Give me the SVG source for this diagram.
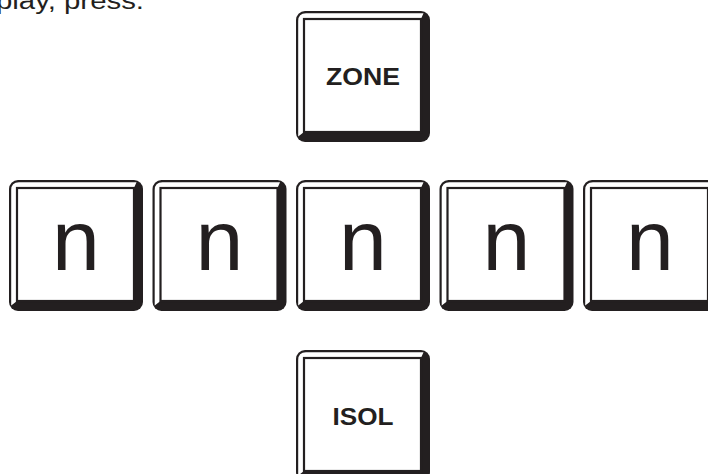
<svg xmlns="http://www.w3.org/2000/svg" xmlns:xlink="http://www.w3.org/1999/xlink" width="708" height="474" viewBox="0 0 708 474">
  <style>
    .label { font-family: "Liberation Sans", Arial, sans-serif; fill: #231f20; text-anchor: middle; }
    .word { font-size: 23px; font-weight: bold; }
    .digit { font-size: 86px; }
    .intro { font-family: "Liberation Sans", Arial, sans-serif; font-size: 23px; fill: #231f20; }
  </style>
  <defs>
    <g id="key">
      <rect x="0" y="0" width="134" height="131" rx="9" ry="9" fill="#231f20"/>
      <path d="M2.2,10 Q2.2,2.2 10,2.2 L127.5,2.2 L125,8 L125,121 L8,121 L2.2,125.5 Z" fill="#ffffff"/>
      <rect x="8" y="8" width="117" height="113" fill="#ffffff" stroke="#231f20" stroke-width="2.2"/>
    </g>
  </defs>
  <rect x="0" y="0" width="708" height="474" fill="#ffffff"/>
  <text class="intro" x="-4" y="8.5" textLength="148" lengthAdjust="spacingAndGlyphs">play, press:</text>
  <g id="connectors"/>
  <g id="key-zone" transform="translate(296,11)">
    <use href="#key" xlink:href="#key"/>
    <text class="label word" x="67" y="74" textLength="74" lengthAdjust="spacingAndGlyphs">ZONE</text>
  </g>
  <g id="key-n1" transform="translate(9,180)">
    <use href="#key" xlink:href="#key"/>
    <text class="label digit" x="67" y="90">n</text>
  </g>
  <g id="key-n2" transform="translate(152.5,180)">
    <use href="#key" xlink:href="#key"/>
    <text class="label digit" x="67" y="90">n</text>
  </g>
  <g id="key-n3" transform="translate(296,180)">
    <use href="#key" xlink:href="#key"/>
    <text class="label digit" x="67" y="90">n</text>
  </g>
  <g id="key-n4" transform="translate(439.5,180)">
    <use href="#key" xlink:href="#key"/>
    <text class="label digit" x="67" y="90">n</text>
  </g>
  <g id="key-n5" transform="translate(583,180)">
    <use href="#key" xlink:href="#key"/>
    <text class="label digit" x="67" y="90">n</text>
  </g>
  <g id="key-isol" transform="translate(296,350)">
    <use href="#key" xlink:href="#key"/>
    <text class="label word" x="67" y="75" textLength="61" lengthAdjust="spacingAndGlyphs">ISOL</text>
  </g>
</svg>
